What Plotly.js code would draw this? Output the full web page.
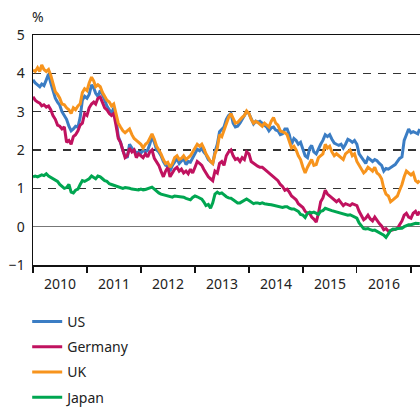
<!DOCTYPE html>
<html>
<head>
<meta charset="utf-8">
<script src="https://cdn.plot.ly/plotly-3.0.1.min.js"></script>
<style>html,body{margin:0;padding:0;background:#fff;}#chart{width:420px;height:407px;}</style>
</head>
<body>
<div id="chart"></div>
<script>
// Semi-monthly observation dates (1st and 16th of each month), Jan 2010 - Mar 2017
const dates = [];
for (let y = 2010; y <= 2017; y++) {
  for (let m = 1; m <= 12; m++) {
    if (y === 2017 && m > 2) break;
    const mm = String(m).padStart(2, '0');
    dates.push(y + '-' + mm + '-01', y + '-' + mm + '-16');
  }
}
dates.push('2017-03-01');

const seriesNames = ['US', 'Germany', 'UK', 'Japan'];
const seriesColors = ['#3b7dc4', '#c0125f', '#f7941d', '#00a651'];

const us = [
3.83,3.75,3.70,3.65,3.72,3.68,3.83,3.98,3.75,3.52,3.35,3.25,3.17,3.00,2.90,2.80,2.62,2.50,2.55,2.62,2.60,2.85,3.30,3.40,
3.35,3.45,3.70,3.62,3.48,3.40,3.55,3.45,3.30,3.15,3.05,2.95,3.10,2.85,2.35,2.20,1.98,1.85,1.80,2.15,2.05,2.00,1.92,1.95,
1.92,2.00,1.95,2.00,2.15,2.35,2.20,2.00,1.95,1.85,1.70,1.60,1.58,1.45,1.60,1.70,1.78,1.65,1.72,1.78,1.62,1.70,1.68,1.78,
1.90,2.02,1.98,2.05,1.95,1.88,1.75,1.70,1.65,1.95,2.15,2.48,2.55,2.60,2.80,2.90,2.95,2.70,2.60,2.62,2.70,2.80,2.88,3.00,
2.95,2.80,2.68,2.75,2.72,2.75,2.70,2.65,2.60,2.50,2.58,2.60,2.52,2.50,2.40,2.42,2.55,2.55,2.40,2.15,2.30,2.25,2.15,2.20,
2.00,1.85,1.80,2.05,2.12,1.95,1.90,2.05,2.15,2.25,2.40,2.35,2.40,2.28,2.18,2.15,2.12,2.15,2.05,2.15,2.28,2.25,2.20,2.25,
2.15,1.90,1.80,1.72,1.65,1.80,1.75,1.70,1.75,1.72,1.65,1.60,1.45,1.52,1.50,1.55,1.58,1.62,1.70,1.78,1.82,2.25,2.40,2.55,
2.45,2.48,2.45,2.42,2.55
];

const germany = [
3.39,3.30,3.25,3.22,3.15,3.18,3.12,3.15,3.05,2.90,2.80,2.65,2.62,2.55,2.60,2.20,2.25,2.15,2.35,2.40,2.50,2.65,2.70,2.95,
2.90,3.10,3.20,3.25,3.20,3.35,3.38,3.25,3.10,3.05,2.95,2.90,2.95,2.65,2.30,2.20,2.00,1.80,1.85,2.05,1.95,2.00,1.80,1.90,
1.85,1.80,1.90,1.82,1.95,2.00,1.78,1.70,1.60,1.45,1.30,1.45,1.55,1.30,1.40,1.50,1.55,1.45,1.50,1.40,1.45,1.38,1.50,1.40,
1.55,1.70,1.65,1.60,1.50,1.40,1.30,1.25,1.20,1.45,1.40,1.65,1.70,1.60,1.85,1.95,2.00,1.85,1.75,1.78,1.70,1.80,1.75,1.95,
1.90,1.70,1.65,1.62,1.58,1.55,1.55,1.50,1.45,1.40,1.35,1.30,1.25,1.20,1.10,1.05,0.95,0.98,0.90,0.80,0.75,0.70,0.60,0.55,
0.50,0.40,0.35,0.35,0.25,0.20,0.12,0.35,0.65,0.75,0.95,0.85,0.80,0.75,0.70,0.65,0.70,0.62,0.55,0.60,0.58,0.55,0.60,0.58,
0.55,0.40,0.30,0.18,0.22,0.30,0.20,0.15,0.25,0.15,0.08,0.02,-0.08,-0.05,-0.12,-0.10,-0.08,-0.05,-0.05,0.05,0.15,0.30,0.35,0.25,
0.22,0.35,0.40,0.30,0.40
];

const uk = [
4.09,4.05,4.15,4.05,4.22,4.10,4.05,4.10,3.95,3.70,3.52,3.45,3.35,3.20,3.18,3.10,3.05,2.95,3.10,3.05,3.15,3.20,3.50,3.60,
3.55,3.75,3.90,3.80,3.65,3.70,3.65,3.50,3.40,3.30,3.25,3.15,3.20,2.95,2.70,2.60,2.50,2.45,2.50,2.55,2.40,2.30,2.25,2.20,
2.15,2.05,2.15,2.20,2.30,2.42,2.28,2.10,2.00,1.90,1.75,1.65,1.68,1.55,1.65,1.80,1.85,1.75,1.78,1.85,1.75,1.80,1.85,1.95,
2.05,2.15,2.10,2.15,2.05,1.90,1.80,1.70,1.65,1.90,2.05,2.40,2.35,2.50,2.70,2.85,2.95,2.80,2.70,2.72,2.80,2.85,2.90,3.02,
2.95,2.80,2.70,2.75,2.72,2.68,2.62,2.70,2.65,2.60,2.75,2.85,2.70,2.65,2.50,2.48,2.45,2.40,2.25,2.05,2.10,2.00,1.85,1.75,
1.55,1.40,1.55,1.65,1.75,1.60,1.62,1.80,1.85,1.90,2.15,2.05,2.10,1.95,1.85,1.90,1.85,1.80,1.75,1.90,1.95,2.00,1.85,1.90,
1.70,1.60,1.50,1.40,1.45,1.55,1.50,1.45,1.55,1.40,1.35,1.25,1.00,0.85,0.80,0.65,0.70,0.75,0.80,0.95,1.10,1.30,1.45,1.40,
1.35,1.40,1.20,1.15,1.20
];

const japan = [
1.30,1.32,1.30,1.32,1.35,1.33,1.38,1.32,1.28,1.25,1.22,1.18,1.10,1.05,1.00,1.02,1.10,0.90,0.88,0.95,0.98,1.10,1.20,1.18,
1.22,1.25,1.32,1.28,1.25,1.32,1.30,1.25,1.20,1.18,1.12,1.10,1.08,1.05,1.04,1.02,1.00,1.02,1.00,1.00,0.98,0.97,0.98,0.96,
0.98,0.96,0.97,0.99,1.02,1.03,0.98,0.92,0.88,0.85,0.83,0.82,0.80,0.78,0.77,0.80,0.79,0.77,0.78,0.77,0.74,0.72,0.70,0.76,
0.80,0.78,0.74,0.72,0.65,0.55,0.58,0.48,0.62,0.85,0.90,0.86,0.88,0.82,0.78,0.75,0.74,0.70,0.65,0.62,0.62,0.65,0.68,0.72,
0.68,0.63,0.60,0.62,0.62,0.60,0.62,0.60,0.58,0.58,0.57,0.56,0.54,0.54,0.52,0.50,0.52,0.52,0.48,0.46,0.46,0.42,0.40,0.32,
0.30,0.24,0.35,0.38,0.36,0.38,0.34,0.32,0.40,0.42,0.48,0.45,0.44,0.42,0.40,0.38,0.36,0.34,0.32,0.31,0.30,0.31,0.28,0.26,
0.22,0.10,0.02,-0.05,-0.06,-0.05,-0.08,-0.10,-0.09,-0.12,-0.15,-0.18,-0.22,-0.28,-0.20,-0.10,-0.06,-0.07,-0.05,-0.05,-0.04,0.00,0.02,0.05,
0.05,0.07,0.09,0.08,0.08
];

const yTicks = [-1, 0, 1, 2, 3, 4, 5];
const yUnit = '%';

const values = [us, germany, uk, japan];
const traces = values.map((v, k) => ({
  type: 'scatter', mode: 'lines', x: dates, y: v, name: seriesNames[k],
  legendgroup: 'g' + k,
  line: {color: seriesColors[k], width: 3}
}));

const font = {family: '"Noto Sans", "Open Sans", sans-serif', size: 14, color: '#222'};

const layout = {
  width: 420, height: 407,
  margin: {l: 33, r: 0, t: 35, b: 142, autoexpand: false},
  paper_bgcolor: '#fff', plot_bgcolor: '#fff',
  font: font,
  showlegend: true,
  legend: {
    x: -0.015, xanchor: 'left', y: -0.178, yanchor: 'top',
    traceorder: 'grouped', tracegroupgap: 4,
    font: font, bgcolor: 'rgba(0,0,0,0)'
  },
  xaxis: {
    type: 'date',
    range: ['2010-01-01', '2017-03-03'],
    dtick: 'M12', tick0: '2010-01-01',
    tickformat: '%Y', ticklabelmode: 'period',
    ticks: 'outside', ticklen: 6, tickwidth: 1.2, tickcolor: '#111',
    showline: true, linecolor: '#111', linewidth: 1.5, mirror: true,
    showgrid: false, zeroline: false,
    tickfont: font
  },
  yaxis: {
    range: [-1, 5],
    tickvals: yTicks,
    ticks: '', showline: true, linecolor: '#111', linewidth: 1.5,
    showgrid: true, gridcolor: '#333', gridwidth: 1.2, griddash: '8px,7px',
    zeroline: true, zerolinecolor: '#777', zerolinewidth: 1.5,
    tickfont: font, ticklabelstandoff: 4
  },
  annotations: [{
    text: yUnit, xref: 'paper', yref: 'paper', x: 0, y: 1,
    xanchor: 'left', yanchor: 'bottom', yshift: 7, xshift: -3,
    showarrow: false, font: font
  }]
};

Plotly.newPlot('chart', traces, layout, {staticPlot: true, displayModeBar: false});
</script>
</body>
</html>
